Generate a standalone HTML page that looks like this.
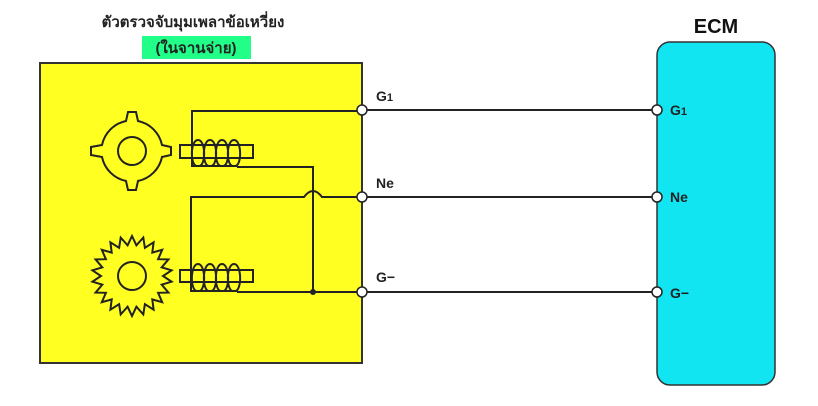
<!DOCTYPE html><html><head><style>body{margin:0;background:#fff}svg{display:block}</style></head><body>
<svg width="818" height="406" viewBox="0 0 818 406" xmlns="http://www.w3.org/2000/svg" font-family="Liberation Sans, sans-serif">
<rect x="40" y="63" width="322" height="300" fill="#ffff22" stroke="#333" stroke-width="2"/>
<rect x="142" y="36" width="109" height="23" fill="#22ff88"/>
<text x="193" y="27" font-size="15" font-weight="bold" text-anchor="middle" fill="#222">ตัวตรวจจับมุมเพลาข้อเหวี่ยง</text>
<text x="196" y="53" font-size="15" font-weight="bold" text-anchor="middle" fill="#222">(ในจานจ่าย)</text>
<rect x="657" y="42" width="118" height="343" rx="13" fill="#11e5f2" stroke="#333" stroke-width="1.5"/>
<text x="716" y="33" font-size="20" font-weight="bold" text-anchor="middle" fill="#111">ECM</text>
<g stroke="#222" stroke-width="2" fill="none">
<line x1="362" y1="110" x2="657" y2="110"/><line x1="362" y1="197" x2="657" y2="197"/><line x1="362" y1="292" x2="657" y2="292"/>
<path d="M362 111 H192 V166 H237"/>
<path d="M237 167 H313 V292"/>
<path d="M362 197 H322 Q313 185 304 197 H191 V291 H237"/>
<path d="M237 292 H362"/>
<rect x="180" y="145" width="73" height="13"/>
<rect x="180" y="270" width="73" height="12"/>
<path d="M197 166 C190 166 190 140 198 140 C206 140 206 166 199 166 M209 166 C202 166 202 140 210 140 C218 140 218 166 211 166 M221 166 C214 166 214 140 222 140 C230 140 230 166 223 166 M233 166 C226 166 226 140 234 140 C242 140 242 166 235 166"/>
<path d="M197 291 C190 291 190 264 198 264 C206 264 206 291 199 291 M209 291 C202 291 202 264 210 264 C218 264 218 291 211 291 M221 291 C214 291 214 264 222 264 C230 264 230 291 223 291 M233 291 C226 291 226 264 234 264 C242 264 242 291 235 291"/>
<circle cx="132" cy="151" r="14"/>
<path d="M126 121 L128 112 L136 112 L138 121 A31 31 0 0 1 162 145 L171 147 L171 155 L162 157 A31 31 0 0 1 138 181 L136 190 L128 190 L126 181 A31 31 0 0 1 102 157 L91 155 L91 147 L102 145 A31 31 0 0 1 126 121 Z"/>
<circle cx="132" cy="276" r="14"/>
<polygon id="gear" points=""/>
</g>
<g fill="#fff" stroke="#222" stroke-width="1.5">
<circle cx="362" cy="110" r="5"/><circle cx="362" cy="197" r="5"/><circle cx="362" cy="292" r="5"/>
<circle cx="657" cy="110" r="5"/><circle cx="657" cy="197" r="5"/><circle cx="657" cy="292" r="5"/>
</g>
<circle cx="313" cy="292" r="3" fill="#222"/>
<g font-size="14" font-weight="bold" fill="#222">
<text x="376" y="101">G<tspan font-size="11">1</tspan></text><text x="376" y="188">Ne</text><text x="376" y="282">G−</text>
<text x="670" y="115">G<tspan font-size="11">1</tspan></text><text x="670" y="202">Ne</text><text x="670" y="298">G−</text>
</g>
</svg>
<script>
var p=[],n=22,cx=132,cy=276;
for(var i=0;i<2*n;i++){var r=i%2?31:40,a=i*Math.PI/n-Math.PI/2;p.push((cx+r*Math.cos(a)).toFixed(1)+","+(cy+r*Math.sin(a)).toFixed(1));}
document.getElementById("gear").setAttribute("points",p.join(" "));
</script>
</body></html>
